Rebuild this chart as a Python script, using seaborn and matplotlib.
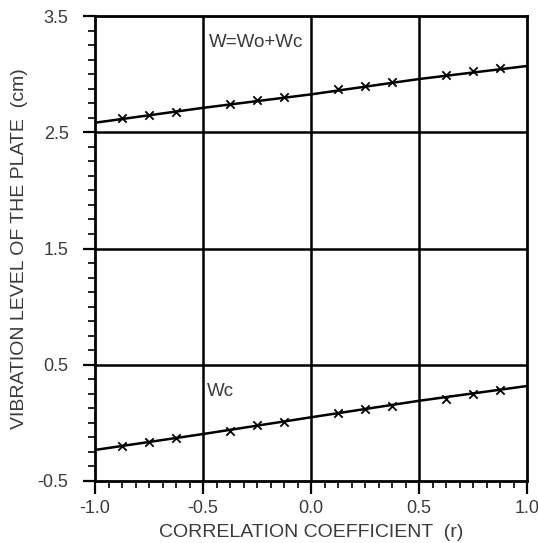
import numpy as np
import pandas as pd
import matplotlib
matplotlib.use("Agg")
import matplotlib.pyplot as plt
import seaborn as sns
from matplotlib.ticker import MultipleLocator

# ========================
# DATA
# ========================
line_r = [-1.0, -0.5, 0.0, 0.5, 1.0]
w_line = [2.582, 2.71, 2.826, 2.958, 3.07]
wc_line = [-0.233, -0.096, 0.048, 0.19, 0.317]

marker_r = [-0.875, -0.75, -0.625, -0.375, -0.25, -0.125,
            0.125, 0.25, 0.375, 0.625, 0.75, 0.875]
w_marks = [2.62, 2.648, 2.677, 2.745, 2.775, 2.80,
           2.869, 2.90, 2.935, 2.99, 3.027, 3.055]
wc_marks = [-0.199, -0.162, -0.133, -0.068, -0.018, 0.010,
            0.082, 0.117, 0.145, 0.208, 0.248, 0.283]

x_ticks = [-1.0, -0.5, 0.0, 0.5, 1.0]
y_ticks = [-0.5, 0.5, 1.5, 2.5, 3.5]

# ========================
# STYLE
# ========================
sns.set_style("white")
plt.rcParams["font.family"] = ["Liberation Sans", "DejaVu Sans"]
text_col = "#3a3a3a"

fig = plt.figure(figsize=(5.38, 5.43), dpi=100)
ax = fig.add_axes([0.1766, 0.1142, 0.803, 0.8563])

lines = pd.DataFrame({"r": line_r * 2,
                      "val": w_line + wc_line,
                      "series": ["W"] * 5 + ["Wc"] * 5})
marks = pd.DataFrame({"r": marker_r * 2,
                      "val": w_marks + wc_marks,
                      "series": ["W"] * 12 + ["Wc"] * 12})

# grid lines first, so curves sit on top
for gx in [-0.5, 0.0, 0.5]:
    ax.axvline(gx, color="black", lw=1.8, zorder=1)
for gy in [0.5, 1.5, 2.5]:
    ax.axhline(gy, color="black", lw=1.8, zorder=1)

sns.lineplot(data=lines, x="r", y="val", units="series", estimator=None,
             color="black", lw=1.8, ax=ax, zorder=3, legend=False)
sns.scatterplot(data=marks, x="r", y="val", marker="x", color="black",
                s=36, linewidth=1.3, ax=ax, zorder=4, legend=False)

ax.text(-0.472, 3.27, "W=Wo+Wc", fontsize=13.5, color=text_col, va="center")
ax.text(-0.48, 0.274, "Wc", fontsize=13.5, color=text_col, va="center")

ax.set_xlim(-1.0, 1.0)
ax.set_ylim(-0.5, 3.5)
ax.set_xticks(x_ticks)
ax.set_yticks(y_ticks)
ax.set_xticklabels([f"{v:.1f}" for v in x_ticks])
ax.set_yticklabels([f"{v:.1f}" for v in y_ticks])
ax.xaxis.set_minor_locator(MultipleLocator(0.0625))
ax.yaxis.set_minor_locator(MultipleLocator(0.125))
ax.tick_params(which="both", bottom=True, left=True)
ax.tick_params(which="major", direction="out", length=9, width=1.6,
               colors="black", labelcolor=text_col, labelsize=13, pad=5)
ax.tick_params(axis="y", which="major", pad=10)
ax.tick_params(which="minor", direction="out", length=5, width=1.2,
               colors="black")

for sp in ax.spines.values():
    sp.set_color("black")
    sp.set_linewidth(2)

ax.set_xlabel("CORRELATION COEFFICIENT  (r)", fontsize=14, color=text_col,
              labelpad=5)
ax.set_ylabel("VIBRATION LEVEL OF THE PLATE  (cm)", fontsize=14,
              color=text_col, labelpad=7)

fig.savefig("out.png", dpi=100)
